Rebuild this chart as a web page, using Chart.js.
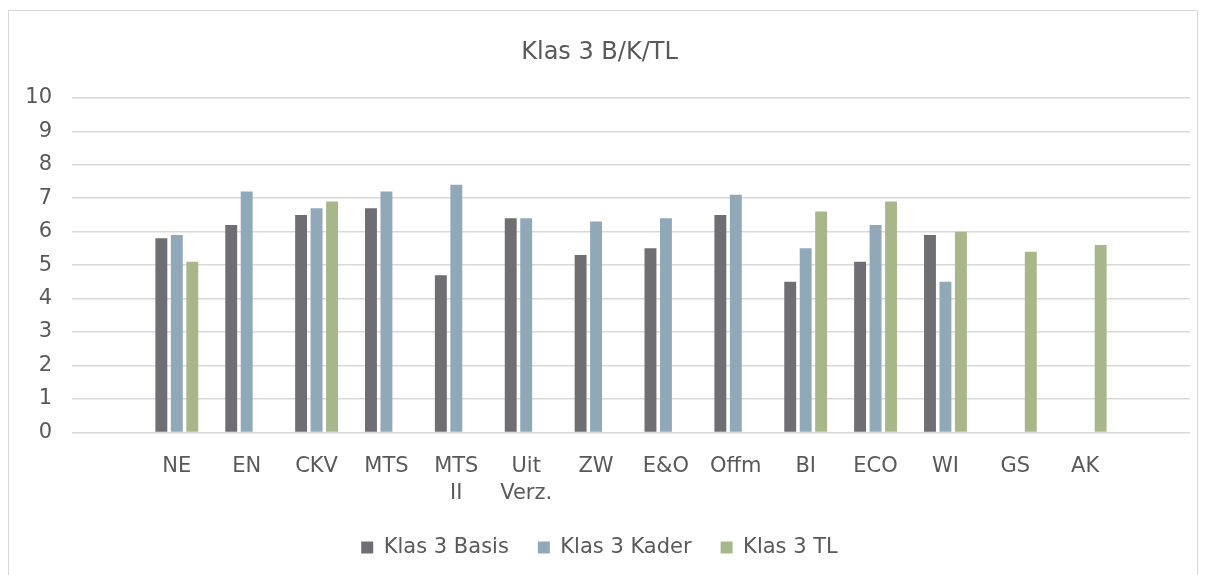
<!DOCTYPE html>
<html>
<head>
<meta charset="utf-8">
<script src="https://cdn.jsdelivr.net/npm/chart.js@4"></script>
<style>
    body { margin: 0; background: #fff; }
    #box {
        position: absolute; left: 8px; top: 10px;
        width: 1190px; height: 570px;
        box-sizing: border-box; border: 1px solid #d9d9d9;
    }
</style>
</head>
<body>
<div id="box"><canvas id="myChart"></canvas></div>
<script>
const categories = ["", "NE", "EN", "CKV", "MTS", ["MTS", "II"], ["Uit", "Verz."], "ZW", "E&O", "Offm", "BI", "ECO", "WI", "GS", "AK", ""];
const basis = [null, 5.8, 6.2, 6.5, 6.7, 4.7, 6.4, 5.3, 5.5, 6.5, 4.5, 5.1, 5.9, null, null, null];
const kader = [null, 5.9, 7.2, 6.7, 7.2, 7.4, 6.4, 6.3, 6.4, 7.1, 5.5, 6.2, 4.5, null, null, null];
const tl = [null, 5.1, null, 6.9, null, null, null, null, null, null, 6.6, 6.9, 6.0, 5.4, 5.6, null];
const seriesNames = ["Klas 3 Basis", "Klas 3 Kader", "Klas 3 TL"];
const yTicks = [0, 1, 2, 3, 4, 5, 6, 7, 8, 9, 10];

window.onload = () => {
    const font = "'DejaVu Sans', sans-serif";
    const grey = "#595959";
    const colors = ["#6f6e73", "#91a8b9", "#a7b78a"];

    const data = {
        labels: categories,
        datasets: [basis, kader, tl].map((vals, i) => ({
            label: seriesNames[i],
            data: vals,
            backgroundColor: colors[i],
            categoryPercentage: 0.664,
            barPercentage: 0.77
        }))
    };

    const config = {
        type: "bar",
        data: data,
        options: {
            responsive: true,
            maintainAspectRatio: false,
            animation: false,
            layout: { padding: { left: 0, right: 7, bottom: 11 } },
            plugins: {
                title: {
                    display: true,
                    text: "Klas 3 B/K/TL",
                    color: grey,
                    font: { family: font, size: 24, weight: "normal" },
                    padding: { top: 27, bottom: 31 }
                },
                legend: {
                    position: "bottom",
                    labels: {
                        color: grey,
                        font: { family: font, size: 21 },
                        boxWidth: 12,
                        boxHeight: 12,
                        padding: 29
                    }
                },
                tooltip: { enabled: false }
            },
            scales: {
                x: {
                    // let the plot area reach down into the space kept above the legend
                    afterFit: scale => { scale.height = scale.height - 11; },
                    grid: { display: false },
                    border: { display: false },
                    ticks: {
                        color: grey,
                        font: { family: font, size: 21, lineHeight: 1.3 },
                        padding: 12,
                        maxRotation: 0,
                        autoSkip: false
                    }
                },
                y: {
                    min: 0,
                    max: 10,
                    afterBuildTicks: scale => { scale.ticks = yTicks.map(v => ({ value: v })); },
                    afterFit: scale => { scale.width = 63; },
                    grid: { color: "#d9d9d9", lineWidth: 1.5, drawTicks: false },
                    border: { display: false },
                    ticks: {
                        color: grey,
                        font: { family: font, size: 21 },
                        padding: 20
                    }
                }
            }
        }
    };

    const ctx = document.getElementById("myChart").getContext("2d");
    new Chart(ctx, config);
};
</script>
</body>
</html>
